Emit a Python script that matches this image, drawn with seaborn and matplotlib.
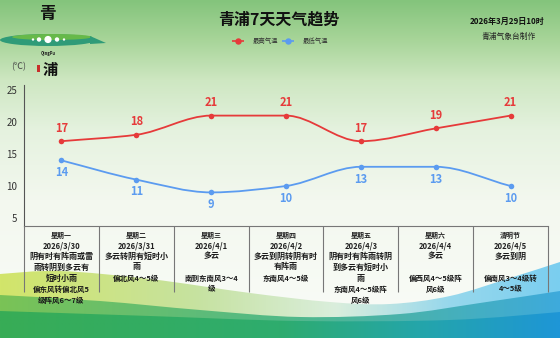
import numpy as np
import pandas as pd
import matplotlib
matplotlib.use("Agg")
import matplotlib.pyplot as plt
import seaborn as sns
from matplotlib.path import Path
from matplotlib.patches import PathPatch, Ellipse, Rectangle
from matplotlib.transforms import blended_transform_factory

# ---- data ----
days = ["星期一", "星期二", "星期三", "星期四", "星期五", "星期六", "清明节"]
dates = ["2026/3/30", "2026/3/31", "2026/4/1", "2026/4/2", "2026/4/3", "2026/4/4", "2026/4/5"]
t_max = [17, 18, 21, 21, 17, 19, 21]
t_min = [14, 11, 9, 10, 13, 13, 10]
weather = [
    ["阴有时有阵雨或雷", "雨转阴到多云有", "短时小雨"],
    ["多云转阴有短时小", "雨"],
    ["多云"],
    ["多云到阴转阴有时", "有阵雨"],
    ["阴有时有阵雨转阴", "到多云有短时小", "雨"],
    ["多云"],
    ["多云到阴"],
]
wind = [
    ["偏东风转偏北风5", "级阵风6～7级"],
    ["偏北风4～5级"],
    ["南到东南风3～4", "级"],
    ["东南风4～5级"],
    ["东南风4～5级阵", "风6级"],
    ["偏西风4～5级阵", "风6级"],
    ["偏南风3～4级转", "4～5级"],
]
y_ticks = [5, 10, 15, 20, 25]
series_names = ["最高气温", "最低气温"]

RED = "#e63a3a"
BLUE = "#5b9bf0"
W, H = 560, 338

sns.set_theme(style="white")
plt.rcParams["font.family"] = ["Noto Sans CJK SC", "DejaVu Sans"]

fig = plt.figure(figsize=(W / 100, H / 100), dpi=100)

# ---- background layer in pixel coordinates ----
bg = fig.add_axes([0, 0, 1, 1], zorder=0)
bg.set_xlim(0, W)
bg.set_ylim(H, 0)
bg.axis("off")

def vgrad(stops, n=H):
    ys = np.arange(n)
    pos = [s[0] for s in stops]
    arr = np.zeros((n, 1, 3))
    for c in range(3):
        arr[:, 0, c] = np.interp(ys, pos, [s[1][c] for s in stops]) / 255
    return arr

def hgrad(stops, n=400):
    xs = np.linspace(0, 1, n)
    pos = [s[0] for s in stops]
    arr = np.zeros((1, n, 3))
    for c in range(3):
        arr[0, :, c] = np.interp(xs, pos, [s[1][c] for s in stops]) / 255
    return arr

bg.imshow(vgrad([(0, (132, 196, 124)), (40, (168, 213, 153)), (80, (206, 231, 194)),
                 (130, (229, 242, 223)), (200, (243, 248, 239)), (H, (250, 252, 248))]),
          extent=(0, W, H, 0), aspect="auto", zorder=0)

def smooth_path(pts, closed_bottom=None):
    pts = np.asarray(pts, float)
    verts = [pts[0]]
    codes = [Path.MOVETO]
    n = len(pts)
    for i in range(n - 1):
        p0 = pts[max(i - 1, 0)]
        p1 = pts[i]
        p2 = pts[i + 1]
        p3 = pts[min(i + 2, n - 1)]
        verts += [p1 + (p2 - p0) / 6, p2 - (p3 - p1) / 6, p2]
        codes += [Path.CURVE4] * 3
    if closed_bottom is not None:
        verts += [(pts[-1][0], closed_bottom), (pts[0][0], closed_bottom), pts[0]]
        codes += [Path.LINETO, Path.LINETO, Path.CLOSEPOLY]
    return Path(verts, codes)

waves = [
    ([(0, 274), (60, 271), (150, 279), (250, 293), (330, 302), (390, 304),
      (450, 296), (510, 278), (560, 262)],
     [(0, (210, 229, 106)), (0.35, (198, 226, 160)), (0.6, (218, 238, 220)),
      (0.8, (152, 216, 236)), (1, (122, 206, 240))]),
    ([(0, 295), (100, 301), (200, 310), (300, 317), (400, 314), (480, 303), (560, 291)],
     [(0, (122, 195, 86)), (0.5, (82, 185, 135)), (1, (62, 170, 220))]),
    ([(0, 311), (150, 316), (300, 321), (450, 320), (560, 312)],
     [(0, (56, 172, 86)), (0.5, (46, 172, 110)), (0.75, (36, 165, 170)), (1, (30, 150, 215))]),
]
for k, (pts, stops) in enumerate(waves):
    patch = PathPatch(smooth_path(pts, closed_bottom=H + 2), facecolor="none", lw=0)
    bg.add_patch(patch)
    im = bg.imshow(hgrad(stops), extent=(0, W, H + 2, 250), aspect="auto", zorder=1 + k)
    im.set_clip_path(patch)
bg.set_xlim(0, W)
bg.set_ylim(H, 0)

# ---- emblem ----
bg.text(47, 14, "青", fontsize=12, fontweight="bold", color="#111", ha="center", va="center", zorder=5)
bg.add_patch(Ellipse((48, 40), 96, 12, color="#2f9b78", lw=0, zorder=5))
bg.add_patch(Ellipse((52, 37), 80, 6, color="#67b94a", lw=0, zorder=5))
bg.add_patch(PathPatch(Path([(90, 36), (106, 43), (90, 44), (90, 36)],
                            [Path.MOVETO, Path.LINETO, Path.LINETO, Path.CLOSEPOLY]),
                       color="#2f9b78", lw=0, zorder=5))
for x, r in [(33, 1.2), (39, 2.2), (48, 3.6), (57, 2.2), (64, 1.2)]:
    bg.add_patch(Ellipse((x, 39.5), 2 * r, 2 * r, color="white", lw=0, zorder=6))
bg.text(48, 54, "QingPu", fontsize=3, fontweight="bold", color="#222", ha="center", va="center", zorder=5)
bg.text(50, 70, "浦", fontsize=11, fontweight="bold", color="#111", ha="center", va="center", zorder=5)
bg.add_patch(Rectangle((37, 65), 3, 7, color="#c8302b", lw=0, zorder=5))
bg.text(19, 67, "(℃)", fontsize=6.5, color="#444", ha="center", va="center", zorder=5)

# ---- titles ----
bg.text(279, 20, "青浦7天天气趋势", fontsize=11.5, fontweight="bold", color="#111",
        ha="center", va="center", zorder=5)
bg.text(507, 21, "2026年3月29日10时", fontsize=5.8, fontweight="bold", color="#111",
        ha="center", va="center", zorder=5)
bg.text(509, 37, "青浦气象台制作", fontsize=5.6, color="#222", ha="center", va="center", zorder=5)

# legend
for name, col, x0 in zip(series_names, [RED, BLUE], [232, 282]):
    bg.plot([x0, x0 + 12], [40.5, 40.5], color=col, lw=1.2, zorder=5, solid_capstyle="butt")
    bg.plot([x0 + 6], [40.5], "o", color=col, ms=3.6, zorder=6)
    bg.text(x0 + 21, 40.5, name, fontsize=4.6, color="#333", ha="left", va="center", zorder=5)

# ---- main chart ----
ax = fig.add_axes([24 / W, (H - 226) / H, 524 / W, (226 - 85) / H], zorder=2)
ax.patch.set_alpha(0)
idx = np.arange(len(days))
df = pd.DataFrame({"idx": idx, "day": days, "max": t_max, "min": t_min})

def mono_path(xs, ys):
    xs = np.asarray(xs, float)
    ys = np.asarray(ys, float)
    d = np.diff(ys) / np.diff(xs)
    m = np.zeros_like(ys)
    m[0], m[-1] = d[0], d[-1]
    for k in range(1, len(ys) - 1):
        if d[k - 1] * d[k] > 0:
            m[k] = 2 * d[k - 1] * d[k] / (d[k - 1] + d[k])
    verts = [(xs[0], ys[0])]
    codes = [Path.MOVETO]
    for k in range(len(xs) - 1):
        h = xs[k + 1] - xs[k]
        verts += [(xs[k] + h / 3, ys[k] + m[k] * h / 3),
                  (xs[k + 1] - h / 3, ys[k + 1] - m[k + 1] * h / 3),
                  (xs[k + 1], ys[k + 1])]
        codes += [Path.CURVE4] * 3
    return Path(verts, codes)

for col, color, off in [("max", RED, 9.4), ("min", BLUE, -8.8)]:
    ax.add_patch(PathPatch(mono_path(df["idx"], df[col]), fill=False, edgecolor=color,
                           lw=1.3, zorder=3))
    sns.scatterplot(data=df, x="idx", y=col, color=color, s=16, linewidth=0, zorder=4,
                    ax=ax, legend=False)
    for x, v in zip(df["idx"], df[col]):
        ax.annotate(str(v), (x, v), xytext=(0, off), textcoords="offset points",
                    ha="center", va="center", fontsize=8, fontweight="bold", color=color)

ax.set_xlim(-0.5, len(days) - 0.5)
ax.set_ylim(3.75, 25.78)
ax.set_yticks(y_ticks)
ax.set_xticks([])
ax.set_xlabel("")
ax.set_ylabel("")
for s in ["top", "right"]:
    ax.spines[s].set_visible(False)
ax.spines["left"].set_color("#555")
ax.spines["left"].set_linewidth(0.8)
ax.spines["bottom"].set_color("#777")
ax.spines["bottom"].set_linewidth(0.8)
ax.tick_params(axis="y", length=3, width=0.8, color="#555", labelsize=7, labelcolor="#333", pad=2)

# ---- forecast table below the chart ----
tr = blended_transform_factory(ax.transData, bg.transData)
bg.vlines(np.arange(len(days) + 1) - 0.5, 226, 292, colors="#777", lw=0.8, transform=tr, zorder=7)
for i in idx:
    bg.text(i, 235, days[i], fontsize=5, fontweight="bold", color="#222",
            ha="center", va="center", transform=tr, zorder=8)
    bg.text(i, 246, dates[i], fontsize=5.5, fontweight="bold", color="#222",
            ha="center", va="center", transform=tr, zorder=8)
    for r, line in enumerate(weather[i]):
        bg.text(i, 256 + 11 * r, line, fontsize=5.8, fontweight="bold", color="#1a1a1a",
                ha="center", va="center", transform=tr, zorder=8)
    start = max(len(weather[i]), 2)
    for r, line in enumerate(wind[i]):
        bg.text(i, 256 + 11 * (start + r), line, fontsize=5.4, fontweight="bold", color="#1a1a1a",
                ha="center", va="center", transform=tr, zorder=8)

fig.savefig("out.png", dpi=100)
